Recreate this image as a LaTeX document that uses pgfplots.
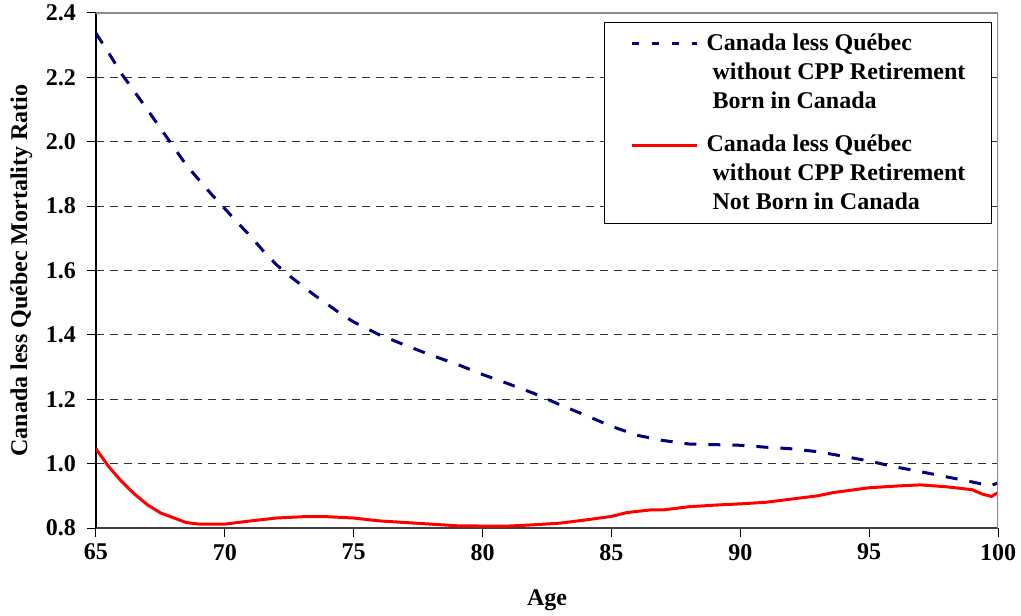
\documentclass[border=0pt]{standalone}
\usepackage{fontspec}
\setmainfont{Liberation Serif}
\usepackage{pgfplots}
\pgfplotsset{compat=1.18}
\definecolor{Navy}{HTML}{000080}
\definecolor{Frame}{HTML}{8C8C8C}
\newcommand{\lblfont}{\fontsize{12}{14.5}\selectfont\bfseries}
\pgfplotsset{dashlegend/.style={legend image code/.code={%
  \draw[##1, dash pattern=on 3.5pt off 6.5pt] (0pt,14.5pt) -- (32.5pt,14.5pt);}}}

\begin{document}
\begin{tikzpicture}
\begin{axis}[
  scale only axis, width=451pt, height=257.5pt,
  xmin=65, xmax=100, ymin=0.8, ymax=2.4,
  xtick={65,70,...,100}, ytick={0.8,1.0,...,2.41},
  axis x line*=bottom, axis y line*=left,
  x axis line style={-, draw=black!75, line width=0.9pt},
  y axis line style={-, draw=black, line width=0.6pt},
  tick align=outside, major tick length=4.5pt,
  tick style={black, line width=0.5pt},
  ymajorgrids, grid style={black!80, line width=0.5pt, dash pattern=on 4pt off 3pt},
  /pgf/number format/assume math mode=true,
  tick label style={font=\lblfont},
  yticklabel style={xshift=-2pt, /pgf/number format/.cd, fixed, fixed zerofill, precision=1},
  xlabel={Age}, ylabel={Canada less Québec Mortality Ratio},
  label style={font=\lblfont},
  xlabel style={yshift=-8pt},
  legend cell align=left,
  legend style={at={(0.9933,0.9825)}, anchor=north east, draw=black, fill=white,
    line width=0.5pt, inner xsep=13pt, inner ysep=5.5pt, row sep=12pt,
    nodes={inner sep=0pt, font=\lblfont, align=left}, column sep=4pt},
  legend image code/.code={\draw[#1] (0pt,14.5pt) -- (32.5pt,14.5pt);},
]
\addplot[Navy, line width=1.5pt, dash pattern=on 6pt off 6pt, dashlegend] coordinates {
(65.0,2.337) (65.5,2.275) (66.0,2.210) (66.5,2.155) (67.0,2.099) (67.5,2.042)
(68.0,1.985) (68.5,1.928) (69.0,1.881) (69.5,1.835) (70.0,1.792) (70.5,1.748)
(71.0,1.706) (71.5,1.660) (72.0,1.618) (72.5,1.584) (73.0,1.553) (73.5,1.522)
(74.0,1.494) (74.5,1.465) (75.0,1.440) (75.5,1.420) (76.0,1.400) (77.0,1.368)
(78.0,1.337) (79.0,1.309) (80.0,1.277) (81.0,1.248) (82.0,1.218) (83.0,1.183)
(84.0,1.150) (85.0,1.116) (86.0,1.088) (87.0,1.072) (88.0,1.061) (89.0,1.059)
(90.0,1.057) (91.0,1.051) (92.0,1.046) (93.0,1.037) (94.0,1.023) (95.0,1.008)
(96.0,0.990) (97.0,0.975) (98.0,0.959) (99.0,0.943) (99.7,0.931) (100.0,0.940)
};
\addlegendentry{Canada less Québec\\\hspace{3pt}without CPP Retirement\\\hspace{3pt}Born in Canada}
\addplot[red, line width=1.5pt] coordinates {
(65.0,1.046) (65.5,0.990) (66.0,0.944) (66.5,0.905) (67.0,0.872) (67.5,0.847)
(68.0,0.832) (68.5,0.817) (69.0,0.812) (70.0,0.812) (71.0,0.822) (72.0,0.831)
(73.0,0.835) (74.0,0.835) (75.0,0.831) (76.0,0.822) (77.0,0.817) (78.0,0.812)
(79.0,0.807) (80.0,0.806) (81.0,0.806) (82.0,0.810) (83.0,0.815) (84.0,0.825)
(85.0,0.836) (85.6,0.848) (86.5,0.856) (87.0,0.856) (88.0,0.866) (89.0,0.871)
(90.0,0.875) (91.0,0.880) (92.0,0.890) (93.0,0.900) (93.6,0.910) (95.0,0.925)
(96.2,0.931) (97.0,0.934) (98.0,0.928) (99.0,0.919) (99.4,0.905) (99.75,0.898)
(100.0,0.910)
};
\addlegendentry{Canada less Québec\\\hspace{3pt}without CPP Retirement\\\hspace{3pt}Not Born in Canada}
\draw[Frame, line width=0.75pt] (rel axis cs:0,1) -- (rel axis cs:1,1) -- (rel axis cs:1,0);
\coordinate (sw) at (rel axis cs:0,0);
\coordinate (ne) at (rel axis cs:1,1);
\end{axis}
\pgfresetboundingbox
\path ([shift={(-48pt,-43.5pt)}]sw) rectangle ([shift={(11.5pt,6.5pt)}]ne);
\end{tikzpicture}
\end{document}
